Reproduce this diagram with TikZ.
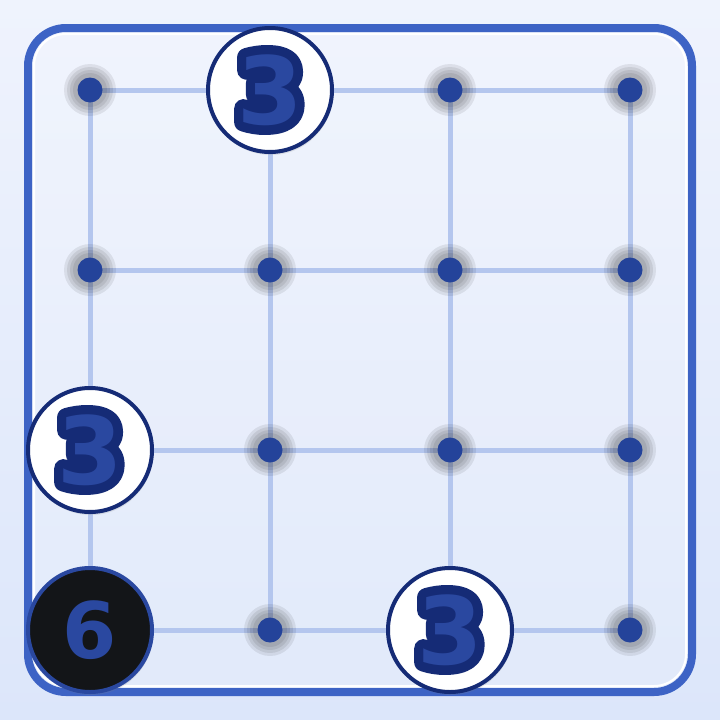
\documentclass[tikz,border=0pt]{standalone}
\usepackage{fontspec}
\setmainfont{DejaVu Sans}
\newfontfamily\cluefat[FakeBold=20]{DejaVu Sans Bold}
\newfontfamily\cluethin{DejaVu Sans Bold}
\usetikzlibrary{calc,shadows}

\definecolor{bgtop}{HTML}{EFF3FD}
\definecolor{bgbot}{HTML}{DCE6FA}
\definecolor{framecol}{HTML}{3D63C5}
\definecolor{gridcol}{HTML}{B4C6EE}
\definecolor{dotblue}{HTML}{24439A}
\definecolor{navy}{HTML}{152B76}
\definecolor{numfill}{HTML}{2A48A0}
\definecolor{coal}{HTML}{131518}

\begin{document}
\begin{tikzpicture}[x=1pt,y=-1pt,line join=round,line cap=round,
    gridline/.style={gridcol,line width=5pt},
    dot/.style={circle,fill=dotblue,inner sep=0pt,minimum size=25pt},
    clue/.style={circle,draw=navy,line width=4pt,fill=white,inner sep=0pt,
      minimum size=124pt,drop shadow={opacity=0.18,shadow xshift=1pt,shadow yshift=-3pt}},
    cluedark/.style={clue,draw=numfill,fill=coal,text=numfill,
      font=\fontsize{78}{78}\cluethin},
    numrim/.style={inner sep=0pt,text=navy,font=\fontsize{94}{94}\cluefat},
    numtxt/.style={inner sep=0pt,text=numfill,font=\fontsize{94}{94}\cluethin}]
      % backdrop and frame
      \shade[top color=bgtop,bottom color=bgbot] (0,0) rectangle (720,720);
      \useasboundingbox (0,0) rectangle (720,720);
      \fill[white,opacity=0.15,rounded corners=38pt] (28,28) rectangle (692,692);
      \draw[framecol,line width=8pt,rounded corners=38pt] (28,28) rectangle (692,692);
      \draw[white,line width=2pt,rounded corners=32pt] (34,34) rectangle (686,686);
      % grid points
      \foreach \i in {1,...,4}
        \foreach \j in {1,...,4}
          \coordinate (g-\i-\j) at ({180*\i-90},{180*\j-90});
      \foreach \k in {1,...,4} {
        \draw[gridline] (g-1-\k) -- (g-4-\k);
        \draw[gridline] (g-\k-1) -- (g-\k-4);
      }
      \foreach \i in {1,...,4}
        \foreach \j in {1,...,4} {
          \foreach \r in {26,23,20,17}
            \fill[black,opacity=0.08] (g-\i-\j) circle (\r);
          \node[dot] (p-\i-\j) at (g-\i-\j) {};
        }
      % clues
      \foreach \n/\pos in {a/g-2-1,b/g-1-3,c/g-3-4} {
        \node[clue] (clue-\n) at (\pos) {};
        \node[numrim] at (clue-\n) {3};
        \node[numtxt] at (clue-\n) {3};
      }
      \node[cluedark] (clue-d) at (g-1-4) {6};
    \end{tikzpicture}
\end{document}
